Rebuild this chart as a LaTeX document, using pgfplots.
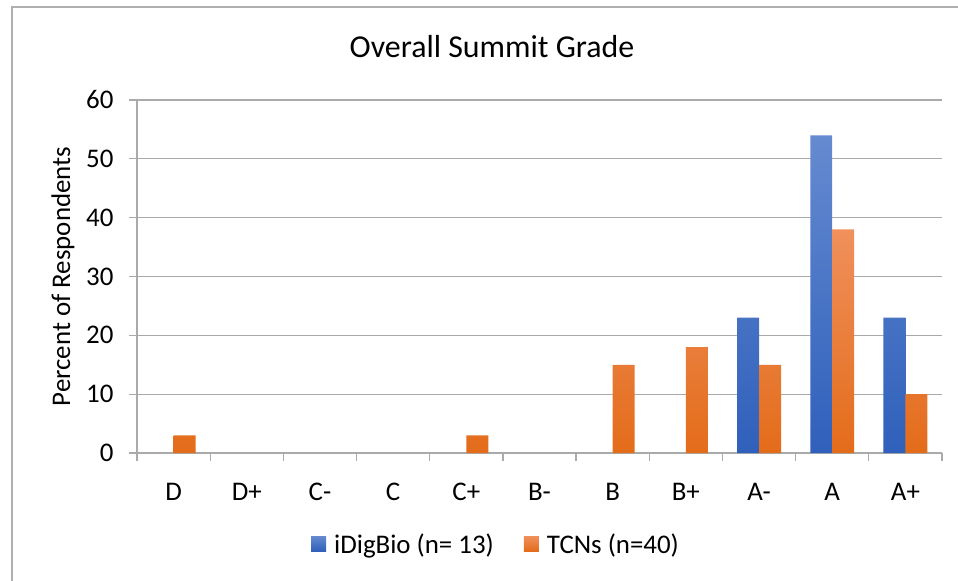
\documentclass[border=0pt]{standalone}
\usepackage{pgfplots}
\pgfplotsset{compat=1.18}
\usepackage{fontspec}
\setmainfont{Carlito}
\definecolor{gridgray}{RGB}{170,170,170}
\definecolor{frame}{RGB}{175,175,175}
\definecolor{bluetop}{RGB}{101,138,208}
\definecolor{bluemid}{RGB}{68,114,196}
\definecolor{bluebot}{RGB}{47,96,187}
\definecolor{ortop}{RGB}{240,144,92}
\definecolor{ormid}{RGB}{245,129,45}
\definecolor{orbot}{RGB}{227,108,26}
\begin{document}
\begin{tikzpicture}
\useasboundingbox (-137bp,-128bp) rectangle (821bp,453bp);
\draw[frame, line width=1.2bp] (-125bp,-130bp) -- (-125bp,446bp) -- (823bp,446bp);
\begin{axis}[
  at={(0,0)}, anchor=south west,
  scale only axis, width=805bp, height=353bp,
  font=\fontsize{27}{32}\selectfont,
  /pgf/number format/assume math mode=true,
  ybar=0pt, bar width=0.3,
  xmin=-0.5, xmax=10.5, ymin=0, ymax=60,
  ytick={0,10,...,60},
  xtick={0,...,10},
  xticklabels={D,D+,C-,C,C+,B-,B,B+,A-,A,A+},
  minor xtick={-0.5,0.5,...,10.5},
  major x tick style={draw=none},
  minor x tick style={gridgray, line width=1.2bp},
  y tick style={gridgray, line width=1.2bp},
  major tick length=8bp, minor tick length=8bp,
  tick align=outside,
  axis x line*=bottom, axis y line*=left,
  axis line style={gridgray, line width=1.2bp},
  ymajorgrids, grid style={gridgray, line width=1.2bp},
  xticklabel style={yshift=-19bp},
  yticklabel style={xshift=-12bp},
  ylabel={Percent of Respondents},
  ylabel style={at={(axis description cs:-0.0919,0.5)}, anchor=center},
  title={Overall Summit Grade},
  title style={at={(axis description cs:0.441,1)}, anchor=center, yshift=47bp, font=\fontsize{32}{38}\selectfont},
  legend columns=2,
  legend style={at={(axis description cs:0.446,-0.258)}, anchor=center, draw=none, fill=none,
    /tikz/every even column/.append style={column sep=28bp}},
  legend image code/.code={\path[#1] (0bp,-7bp) rectangle (15bp,8bp); \path (21bp,0bp);},
]
\addplot[draw=none, top color=bluetop, middle color=bluemid, bottom color=bluebot]
  coordinates {(8,23) (9,54) (10,23)};
\addplot[draw=none, top color=ortop, middle color=ormid, bottom color=orbot]
  coordinates {(0,3) (4,3) (6,15) (7,18) (8,15) (9,38) (10,10)};
\legend{iDigBio (n= 13),TCNs (n=40)}
\end{axis}
\end{tikzpicture}
\end{document}
